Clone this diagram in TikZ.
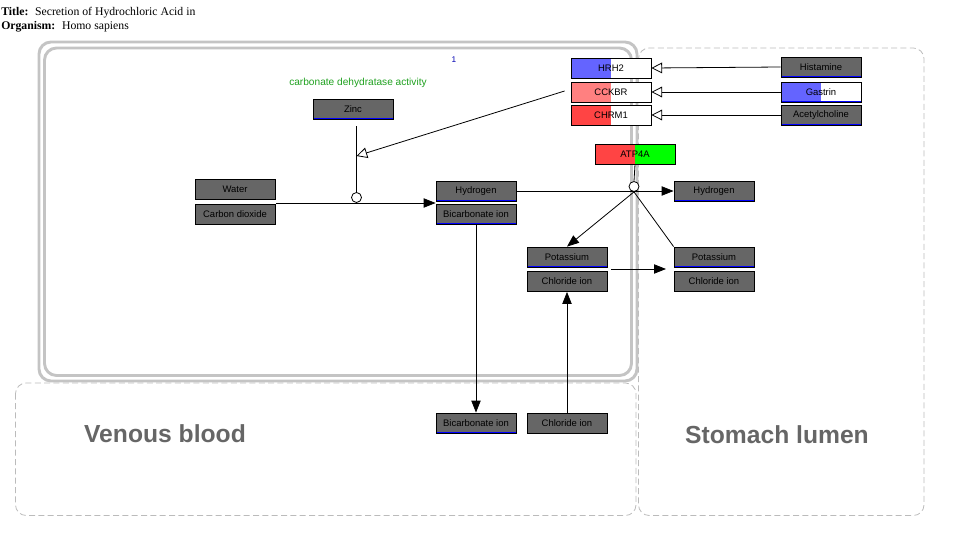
\documentclass[tikz,border=0pt]{standalone}
\usepackage{fontspec}
\setmainfont{Liberation Sans}
\newfontfamily\serifft{Liberation Serif}
\usetikzlibrary{arrows.meta}
\definecolor{nodegray}{HTML}{666666}
\definecolor{cellgray}{HTML}{C4C4C4}
\definecolor{dashgray}{HTML}{BBBBBB}
\definecolor{hblue}{HTML}{6464FF}
\definecolor{lred}{HTML}{FF8080}
\definecolor{mred}{HTML}{FF4444}
\definecolor{mgreen}{HTML}{00FF00}
\definecolor{labgreen}{HTML}{1EA01E}
\definecolor{txtgray}{HTML}{666666}
\tikzset{
  mol/.style={draw=black, line width=0.6pt, fill=nodegray, minimum width=60pt, minimum height=15pt,
    inner sep=0pt, font=\fontsize{7.1}{8}\selectfont,
    path picture={\draw[blue, line width=1.3pt] (path picture bounding box.south west) -- (path picture bounding box.south east);}},
  gene/.style={draw=black, line width=0.6pt, fill=white, minimum width=60pt, minimum height=15pt,
    inner sep=0pt, font=\fontsize{7.1}{8}\selectfont,
    path picture={\fill[#1] (path picture bounding box.south west) rectangle (path picture bounding box.north);}},
  gastrin/.style={draw=black, line width=0.6pt, fill=white, minimum width=60pt, minimum height=15pt,
    inner sep=0pt, font=\fontsize{7.1}{8}\selectfont,
    path picture={\fill[hblue] (path picture bounding box.south west) rectangle (path picture bounding box.north);
      \draw[blue, line width=1.3pt] (path picture bounding box.south west) -- (path picture bounding box.south east);}},
  conv/.style={draw=black, line width=0.6pt, -{Triangle[length=9pt,width=7pt]}},
  plain/.style={draw=black, line width=0.6pt},
  catal/.style={draw=black, line width=0.6pt, -{Triangle[open,length=8pt,width=8pt,fill=white]}},
  anch/.style={circle, draw=black, fill=white, line width=0.6pt, minimum size=7.5pt, inner sep=0pt},
  cell/.style={draw=cellgray, line width=2.2pt, rounded corners=9pt},
  comp/.style={draw=dashgray, line width=0.6pt, dash pattern=on 4.5pt off 2.5pt, rounded corners=8pt},
  complab/.style={text=txtgray, font=\fontsize{18.5}{20}\selectfont\bfseries}
}
\begin{document}
\begin{tikzpicture}[x=0.75pt,y=-0.75pt]
\useasboundingbox (0,0) rectangle (954,546);
% title
\node[anchor=base west, inner sep=0pt, font=\serifft\fontsize{8.8}{10}\selectfont] (title) at (1,16) {\textbf{Title:}\hspace{5pt}Secretion of Hydrochloric Acid in};
\node[anchor=base west, inner sep=0pt, font=\serifft\fontsize{8.8}{10}\selectfont] (org) at (1,29.5) {\textbf{Organism:}\hspace{5pt}Homo sapiens};
% compartments
\draw[comp] (15.5,383) rectangle (636,515.5);
\draw[comp] (638.5,48) rectangle (924,515.5);
\draw[cell] (39,42) rectangle (637,381);
\draw[cell] (44.5,48) rectangle (631.5,375.5);
\node[complab] (venous) at (165,434) {Venous blood};
\node[complab] (lumen) at (777,435) {Stomach lumen};
% labels
\node[text=blue!70!black, font=\fontsize{6.2}{7}\selectfont] (one) at (454,60) {1};
\node[text=labgreen, font=\fontsize{7.6}{8}\selectfont] (cda) at (358,83) {carbonate dehydratase activity};
% molecules
\node[mol] (zinc) at (353,109) {Zinc};
\node[mol] (water) at (235,189.5) {Water};
\node[mol] (co2) at (235,214.5) {Carbon dioxide};
\node[mol] (hydL) at (476,191) {Hydrogen};
\node[mol] (bicL) at (476,214) {Bicarbonate ion};
\node[mol] (potL) at (567,257) {Potassium};
\node[mol] (chlL) at (567,281.5) {Chloride ion};
\node[mol] (hydR) at (714,191) {Hydrogen};
\node[mol] (potR) at (714,257) {Potassium};
\node[mol] (chlR) at (714,281.5) {Chloride ion};
\node[mol] (bicB) at (476,423) {Bicarbonate ion};
\node[mol] (chlB) at (567,423.5) {Chloride ion};
\node[mol] (hist) at (821,67) {Histamine};
\node[gastrin] (gast) at (821,92) {Gastrin};
\node[mol] (ach) at (821,115) {Acetylcholine};
% genes
\node[gene=hblue] (hrh2) at (611,68) {HRH2};
\node[gene=lred] (cckbr) at (611,92) {CCKBR};
\node[gene=mred] (chrm1) at (611,115) {CHRM1};
\node[gene=mred, fill=mgreen] (atp) at (635,154) {ATP4A};
% anchors
\coordinate (cstart) at (276,203);
\node[anch] (anc1) at (356.5,197.5) {};
\coordinate (cat1) at (356.5,156);
\node[anch] (anc2) at (634,186.5) {};
\coordinate (kstart) at (611,269);
\coordinate (kend) at (666,269);
% edges
\draw[conv] (cstart) -- (hydL.west |- cstart);
\draw[plain] (zinc.south -| anc1) ++(0,7) -- (anc1.north);
\draw[catal] (cckbr.west) ++(-6,-1) -- (cat1);
\draw[conv] (hydL.east) -- (hydR.west);
\draw[plain] (atp.south) -- (anc2.north);
\draw[conv] (anc2.south) -- (potL.north);
\draw[plain] (anc2.south) -- (potR.north west);
\draw[conv] (kstart) -- (kend);
\draw[conv] (bicL.south) -- (bicB.north);
\draw[conv] (chlB.north) -- (chlL.south);
\draw[catal] (hist.west) -- (hrh2.east);
\draw[catal] (gast.west) -- (cckbr.east);
\draw[catal] (ach.west) -- (chrm1.east);
\end{tikzpicture}
\end{document}
